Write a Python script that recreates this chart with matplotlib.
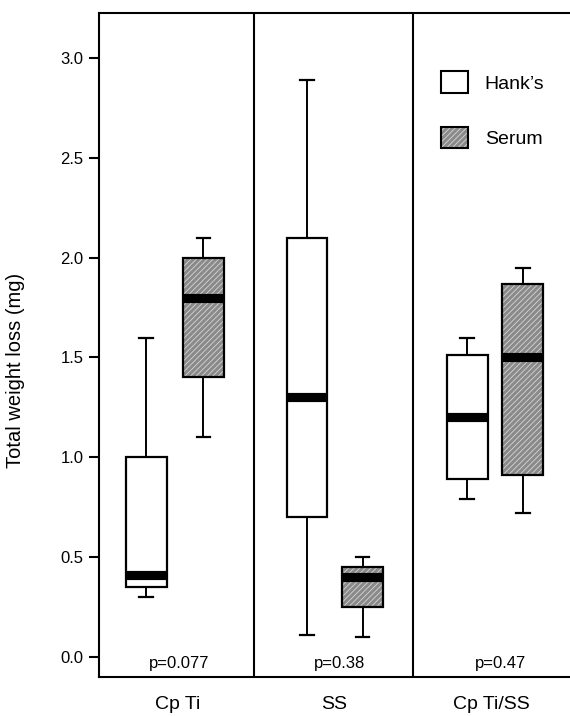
"""Box plots of total weight loss, Hank's vs serum, for three materials."""
import matplotlib

matplotlib.use("Agg")
import matplotlib.pyplot as plt
from matplotlib.legend_handler import HandlerTuple
from matplotlib.patches import PathPatch, Patch

plt.rcParams["font.family"] = ["Liberation Sans", "DejaVu Sans"]
plt.rcParams["hatch.linewidth"] = 0.6

# values (mg)
groups = ["Cp Ti", "SS", "Cp Ti/SS"]
p_labels = ["p=0.077", "p=0.38", "p=0.47"]

hanks_whislo = [0.30, 0.11, 0.79]
hanks_q1 = [0.35, 0.70, 0.89]
hanks_med = [0.41, 1.30, 1.20]
hanks_q3 = [1.00, 2.10, 1.51]
hanks_whishi = [1.60, 2.89, 1.60]

serum_whislo = [1.10, 0.10, 0.72]
serum_q1 = [1.40, 0.25, 0.91]
serum_med = [1.80, 0.40, 1.50]
serum_q3 = [2.00, 0.45, 1.87]
serum_whishi = [2.10, 0.50, 1.95]

# layout
hanks_pos = [-0.20, 0.825, 1.845]
serum_pos = [0.165, 1.18, 2.20]
p_pos = [0.01, 1.03, 2.06]
dividers = [0.49, 1.5]
SERUM_FACE = "#8a8a8a"
SERUM_HATCH = "#d6d6d6"


def _stats(lo, q1, med, q3, hi):
    return [
        dict(whislo=a, q1=b, med=c, q3=d, whishi=e, fliers=[])
        for a, b, c, d, e in zip(lo, q1, med, q3, hi)
    ]


def _draw(ax, stats, pos):
    return ax.bxp(
        stats, positions=pos, widths=0.26, capwidths=0.085,
        patch_artist=True, showfliers=False, manage_ticks=False,
        boxprops=dict(facecolor="white", edgecolor="black", linewidth=1.6),
        medianprops=dict(color="black", linewidth=6.6, solid_capstyle="butt"),
        whiskerprops=dict(color="black", linewidth=1.4),
        capprops=dict(color="black", linewidth=1.6),
    )


fig = plt.figure(figsize=(5.7, 7.16), dpi=100)
ax = fig.add_axes([0.1737, 0.0545, 0.8263, 0.9273])

_draw(ax, _stats(hanks_whislo, hanks_q1, hanks_med, hanks_q3, hanks_whishi), hanks_pos)
serum = _draw(ax, _stats(serum_whislo, serum_q1, serum_med, serum_q3, serum_whishi), serum_pos)

# hatched grey fill under the serum boxes (hatch colour follows edgecolor)
for box in serum["boxes"]:
    ax.add_patch(PathPatch(box.get_path(), facecolor=SERUM_FACE, edgecolor=SERUM_HATCH,
                           hatch="//////", linewidth=0, zorder=box.get_zorder() - 0.1))
    box.set_facecolor("none")

for x in dividers:
    ax.axvline(x, color="black", linewidth=1.5)

for x, label in zip(p_pos, p_labels):
    ax.text(x, -0.035, label, ha="center", va="center", fontsize=12)

ax.set_xlim(-0.5, 2.5)
ax.set_ylim(-0.10, 3.225)
ax.set_yticks([0.0, 0.5, 1.0, 1.5, 2.0, 2.5, 3.0])
ax.set_yticklabels([f"{v:.1f}" for v in ax.get_yticks()])
ax.set_xticks(range(len(groups)))
ax.set_xticklabels(groups, fontsize=14)
ax.tick_params(axis="x", length=0, pad=14)
ax.tick_params(axis="y", direction="out", length=7.5, width=1.5, labelsize=12, pad=3.5)

ax.set_ylabel("Total weight loss (mg)", fontsize=14.5)
ax.yaxis.set_label_coords(-0.158, 0.462)

for side in ("left", "top", "bottom"):
    ax.spines[side].set_linewidth(1.5)
ax.spines["right"].set_visible(False)

hanks_handle = Patch(facecolor="white", edgecolor="black", linewidth=1.5)
serum_handle = (
    Patch(facecolor=SERUM_FACE, edgecolor=SERUM_HATCH, hatch="//////", linewidth=0),
    Patch(facecolor="none", edgecolor="black", linewidth=1.5),
)
ax.legend(
    [hanks_handle, serum_handle], ["Hank\u2019s", "Serum"],
    handler_map={tuple: HandlerTuple(ndivide=1, pad=0)},
    loc="upper left", bbox_to_anchor=(0.726, 0.912), frameon=False, fontsize=14,
    handlelength=1.4, handleheight=1.3, handletextpad=0.85, labelspacing=1.75,
    borderpad=0, borderaxespad=0,
)

fig.savefig("out.png", dpi=100)
